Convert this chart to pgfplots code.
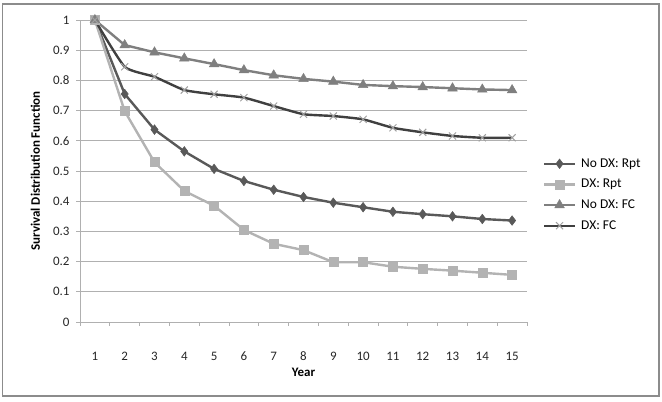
\documentclass[border=0pt]{standalone}
\usepackage{pgfplots}
\pgfplotsset{compat=1.18}
\usepackage{fontspec}
\setmainfont{Carlito}
\definecolor{cA}{HTML}{595959}
\definecolor{cB}{HTML}{B3B3B3}
\definecolor{cC}{HTML}{7F7F7F}
\definecolor{cD}{HTML}{404040}
\definecolor{cDm}{HTML}{A0A0A0}
\definecolor{gridc}{HTML}{B0B0B0}
\definecolor{framec}{HTML}{8C8C8C}
\begin{document}
\begin{tikzpicture}
\useasboundingbox (0,0) rectangle (662bp,402bp);
\draw[framec, line width=1.2bp] (2.5bp,6bp) rectangle (659bp,398bp);
\begin{axis}[
  at={(80bp,80bp)}, anchor=south west,
  scale only axis, width=447bp, height=302bp,
  xmin=0.5, xmax=15.5, ymin=0, ymax=1,
  xtick={1,...,15},
  minor xtick={0.5,1.5,...,15.5},
  ytick={0,0.1,0.2,0.3,0.4,0.5,0.6,0.7,0.8,0.9,1},
  yticklabels={0,0.1,0.2,0.3,0.4,0.5,0.6,0.7,0.8,0.9,1},
  axis lines*=left,
  axis line style={-, draw=gridc, line width=1bp},
  ymajorgrids, grid style={draw=gridc, line width=0.8bp},
  major x tick style={draw=none},
  minor x tick style={draw=gridc, line width=0.8bp},
  major y tick style={draw=gridc, line width=0.8bp},
  tick align=outside, major tick length=4bp, minor tick length=4bp,
  font=\fontsize{13}{15}\selectfont,
  /pgf/number format/assume math mode=true,
  xticklabel style={anchor=center, yshift=-30bp, text=black!85},
  yticklabel style={anchor=east, xshift=-3bp, text=black!85},
  xlabel={\textbf{Year}},
  ylabel={\textbf{Survival Distribution Function}},
  xlabel style={at={(axis description cs:0.5,-0.166)}, anchor=center},
  ylabel style={at={(axis description cs:-0.1,0.5)}, anchor=center, rotate=0},
  legend style={at={(axis description cs:1.035,0.548)}, anchor=north west,
    draw=none, fill=none, font=\fontsize{13.5}{15}\selectfont,
    row sep=6.5bp, inner sep=0pt,
    /tikz/every odd column/.append style={column sep=3bp}},
  legend cell align=left,
  legend image code/.code={\draw[mark repeat=2,mark phase=2] plot coordinates {(0bp,0bp) (15.5bp,0bp) (31bp,0bp)};},
  every axis plot/.append style={line width=2.4bp},
]
\addplot[cA, mark=diamond*, mark size=4.8bp, mark options={fill=cA, draw=cA, line width=0.5bp}] coordinates {
(1,1) (2,0.755) (3,0.637) (4,0.565) (5,0.507) (6,0.467) (7,0.438) (8,0.414) (9,0.395) (10,0.380) (11,0.365) (12,0.357) (13,0.350) (14,0.341) (15,0.336)};
\addlegendentry{No DX: Rpt}
\addplot[cB, mark=square*, mark size=4.5bp, mark options={fill=cB, draw=cB, line width=0.5bp}] coordinates {
(1,1) (2,0.698) (3,0.529) (4,0.434) (5,0.385) (6,0.305) (7,0.259) (8,0.238) (9,0.198) (10,0.198) (11,0.183) (12,0.176) (13,0.170) (14,0.163) (15,0.156)};
\addlegendentry{DX: Rpt}
\addplot[cC, mark=triangle*, mark size=5.5bp, mark options={fill=cC, draw=cC, line width=0.5bp}] coordinates {
(1,1) (2,0.917) (3,0.893) (4,0.873) (5,0.854) (6,0.834) (7,0.817) (8,0.805) (9,0.796) (10,0.785) (11,0.781) (12,0.778) (13,0.774) (14,0.770) (15,0.768)};
\addlegendentry{No DX: FC}
\addplot[cD, smooth, tension=0.3, mark=x, mark size=5bp, mark options={draw=cDm, line width=1bp}] coordinates {
(1,1) (2,0.845) (3,0.812) (4,0.768) (5,0.754) (6,0.743) (7,0.715) (8,0.688) (9,0.682) (10,0.671) (11,0.643) (12,0.628) (13,0.616) (14,0.610) (15,0.610)};
\addlegendentry{DX: FC}
\end{axis}
\end{tikzpicture}
\end{document}
